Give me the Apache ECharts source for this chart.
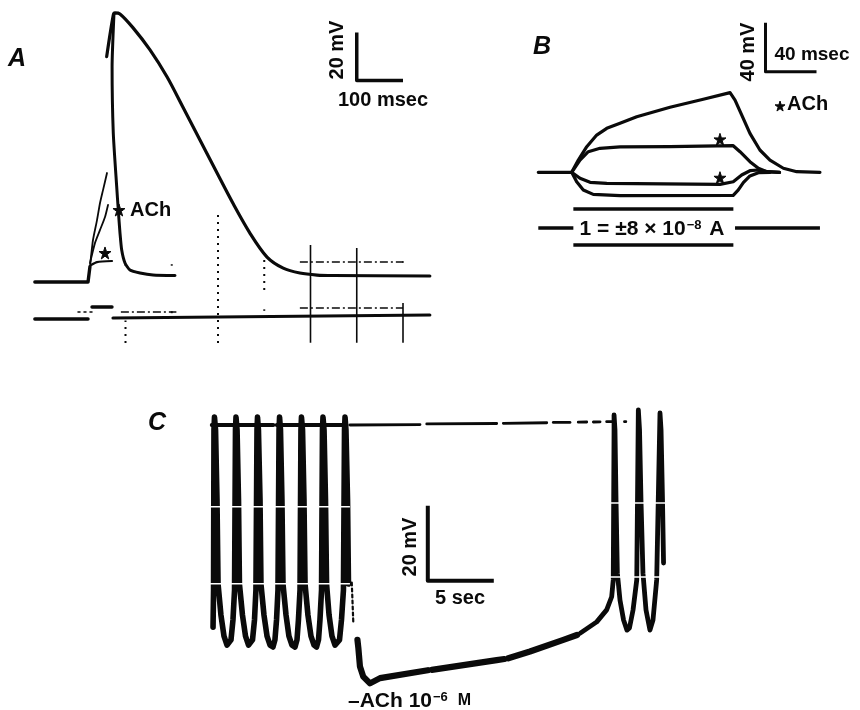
<!DOCTYPE html>
<html><head><meta charset="utf-8">
<script src="https://cdn.jsdelivr.net/npm/echarts@6/dist/echarts.min.js"></script>
<style>html,body{margin:0;padding:0;background:#fff}#c{width:860px;height:710px}</style>
</head><body><div id="c"></div>
<script>
// ---------------- Panel A : time (ms) , potential (mV rel. to rest) ----------------
const aRestBaseline = [[4,0],[119,0],[123.2,6.5]];
const aControlAP = [[159.3,93.9],[173.6,111.2],[177.3,112.1],[188,111.7],[216,106],[253,96.7],[290,85.4],[324,72.9],[361,59.2],[398,45.4],[432,32.9],[469,20.4],[506,10.4],[541,5.8],[577,3.75],[614,2.9],[649,2.7],[858,2.5]];
const aAChAP = [[175,111.5],[171,89.6],[173.6,62],[181,39.6],[184.4,30],[188.1,20.4],[191.8,13.3],[198.9,7.9],[209.7,5],[231.4,3.75],[259.5,2.9],[307,2.7]];
const aSub1 = [[123.2,6.25],[129.7,17.5],[138.4,25.8],[144.9,32.9],[151.4,38.3],[160,45.4]];
const aSub2 = [[123.2,7.9],[134.1,16.3],[144.9,21.7],[155.7,27.1],[162.2,32.1]];
const aSub3 = [[125.4,7.1],[138.4,8.3],[170.8,8.75]];
const aStars = [[155.7,12.1],[185.9,30]];
const aCurrentLeft = [[4,-15.4],[119,-15.4]];
const aCurrentRight = [[173,-15],[858,-13.75]];
const aStimBar = [[127.6,-10.4],[170.8,-10.4]];
const aStimDots = [[97.3,-12.5],[127.6,-12.5]];
// graticule: [time, vFrom, vTo]  and  [v, tFrom, tTo]
const aGratDotted = [[200,-25.4,-16],[300,-13,-12],[300,6.8,7.4],[400,-25.4,30],[500,-3.3,13.3],[500,-12,-11.4],[200,6.8,7.4]];
const aGratSolid = [[600,-25.4,15.4],[700,-25.4,14.2],[800,-25.4,-8.75],[800,8,8.6]];
const aGratH = [[8.3,577,800],[-10.8,577,800],[-12.5,190,310]];
const aScale = {t:700, v:84, dt:100, dv:20};

// ---------------- Panel B : time (ms) , potential (mV) ----------------
const bT1 = [[-26.2,0],[0,0],[5.2,10],[11.8,20.9],[19.6,30.4],[27.5,35.9],[37.9,40],[51,45.4],[77.1,53.1],[103.2,59.6],[124.2,65],[128.1,59],[133.3,46.8],[139.8,31.8],[147.6,18.2],[155.5,10],[166,3.3],[176.5,0.5],[194.7,0]];
const bT2 = [[0,0],[6.5,10],[13,16.8],[22.2,19.6],[37.9,20.7],[77.1,20.9],[126.7,21.7],[132,16.8],[139.8,8.7],[146.4,3.3],[153,0.5],[163,0]];
const bT3 = [[0,0],[6.5,-4.9],[14.4,-8.2],[27.5,-9],[116.3,-9.8],[126.7,-7.7],[133.3,-2.2],[139.8,1.3],[146.4,1.9],[153,0.5],[163,0]];
const bT4 = [[0,0],[3.9,-7.7],[9.1,-14.4],[16.9,-18],[37.9,-19.1],[126.7,-18.8],[130.7,-14.4],[134.6,-8.5],[139.8,-3],[146.4,-0.3],[155.5,0]];
const bStars = [[116.3,26.9],[116.3,-4.4]];
const bLegendStar = [[163.4,54.1]];
const bCurrentTop = [[1.3,-30],[126.8,-30]];
const bCurrentMidLeft = [[-26.2,-45.5],[1.3,-45.5]];
const bCurrentMidRight = [[128.1,-45.5],[194.7,-45.5]];
const bCurrentBottom = [[1.3,-59.3],[126.8,-59.3]];
const bScale = {t:152, v:82, dt:40, dv:40};

// ---------------- Panel C : time (s) , potential (mV) ----------------
const cSpikesBefore = [[0.23,-53.9],[0.27,-44],[0.30,-1.3],[0.34,2.1],[0.42,-1.3],[0.53,-20],[0.61,-42.4],[0.83,-50.7],[1.06,-56.3],[1.29,-58.7],[1.44,-59.2],[1.59,-57.3],[1.74,-52],[1.86,-44],
 [1.93,-1.3],[1.97,2.1],[2.05,-1.3],[2.16,-20],[2.23,-42.4],[2.46,-50.7],[2.69,-56.3],[2.92,-58.7],[3.07,-59.2],[3.22,-57.3],[3.37,-52],[3.48,-44],
 [3.56,-1.3],[3.60,2.1],[3.67,-1.3],[3.79,-20],[3.86,-42.4],[4.09,-50.7],[4.32,-56.3],[4.55,-58.7],[4.77,-59.2],[4.92,-57.3],[5.04,-52],[5.15,-44],
 [5.23,-1.3],[5.27,2.1],[5.34,-1.3],[5.45,-20],[5.53,-42.4],[5.76,-50.7],[5.98,-56.3],[6.21,-58.7],[6.44,-59.2],[6.59,-57.3],[6.70,-52],[6.82,-44],
 [6.89,-1.3],[6.93,2.1],[7.01,-1.3],[7.12,-20],[7.20,-42.4],[7.42,-50.7],[7.65,-56.3],[7.88,-58.7],[8.07,-59.2],[8.22,-57.3],[8.33,-52],[8.45,-44],
 [8.52,-1.3],[8.56,2.1],[8.64,-1.3],[8.75,-20],[8.83,-42.4],[9.02,-50.7],[9.24,-56.3],[9.47,-58.7],[9.62,-59.2],[9.81,-57.3],[9.96,-52],[10.11,-44],
 [10.19,-1.3],[10.23,2.1],[10.30,-1.3],[10.42,-20],[10.49,-42.4]];
const cAfterDots = [[10.74,-42],[10.86,-53]];
const cAChSegments = [
 [[11.17,-57.3],[11.24,-59.5],[11.36,-64.4],[11.61,-67.1],[12.12,-68.9],[12.88,-67.5],[16.5,-65.4]],
 [[16.8,-65.3],[21.72,-62.7],[22.3,-62.4]],
 [[22.6,-62.2],[24.24,-60.4],[26.77,-57.3],[27.8,-56]],
 [[28.05,-55.5],[29.30,-52.5],[30.05,-49.3],[30.43,-45.8],[30.55,-41.3],[30.61,-1.3],[30.61,2.7],
  [30.68,-1.3],[30.76,-20],[30.86,-39.5],[31.06,-46.7],[31.33,-52],[31.59,-54.7],[31.78,-54.1],[32.05,-49.3],[32.33,-41.3],
  [32.45,4],[32.54,-1.3],[32.65,-20],[32.80,-39.5],[33.03,-49.3],[33.33,-54.7],[33.56,-52],[33.84,-41.3],
  [34.09,3.2],[34.17,-1.3],[34.28,-20],[34.36,-36.8]]
];
const cTopLine = [[[0.13,0],[4.8,0]],[[5.05,0],[10.35,0]]];
const cTopDashes = [[[10.61,0],[15.91,0.1]],[[16.42,0.3],[21.72,0.4]],[[22.22,0.45],[25.51,0.6]],[[26.01,0.7],[27.27,0.7]],[[27.9,0.75],[28.54,0.8]],[[29.04,0.8],[29.55,0.85]],[[30.05,0.9],[30.43,0.9]],[[31.4,0.9],[31.5,0.9]]];
const cRasterGaps = [[[0,-21.8],[10.6,-21.8]],[[0,-42.3],[10.6,-42.3]],[[30.3,-20.8],[34.6,-20.8]],[[30.3,-40.5],[34.6,-40.5]]];
const cScale = {t:16.5, v:-41.5, dt:5, dv:20};

// ---------------- helpers ----------------
const INK = '#0a0a0a';
const STAR = 'path://M12,0 L14.9,8.6 L24,8.6 L16.6,14 L19.4,22.6 L12,17.3 L4.6,22.6 L7.4,14 L0,8.6 L9.1,8.6 Z';
const series = [];
function line(g, data, w, o) {
  o = o || {};
  series.push({type:'line', xAxisIndex:g, yAxisIndex:g, data:data, symbol:'none', silent:true, animation:false,
    smooth:o.smooth||false, z:o.z||2,
    lineStyle:{color:o.color||INK, width:w, type:o.dash||'solid', cap:o.cap||'round', join:'round'}});
}
function stars(g, data, size) {
  series.push({type:'scatter', xAxisIndex:g, yAxisIndex:g, data:data, symbol:STAR, symbolSize:size, silent:true, animation:false, z:5,
    itemStyle:{color:INK, borderColor:INK, borderWidth:1, opacity:1}});
}
function scaleBar(g, s, w) {
  line(g, [[s.t, s.v + s.dv],[s.t, s.v],[s.t + s.dt, s.v]], w, {cap:'butt'});
}

// Panel A
line(0, aRestBaseline, 3.4);
line(0, aControlAP, 3.2, {smooth:0.3});
line(0, aAChAP, 3, {smooth:0.2});
line(0, aSub1, 1.8, {smooth:0.2});
line(0, aSub2, 1.8, {smooth:0.2});
line(0, aSub3, 2.2, {smooth:0.2});
stars(0, aStars, 12);
line(0, aCurrentLeft, 3.4);
line(0, aCurrentRight, 3.2);
line(0, aStimBar, 3.4);
line(0, aStimDots, 1.5, {dash:[2,4]});
aGratDotted.forEach(function(d){ line(0, [[d[0],d[1]],[d[0],d[2]]], 2, {dash:[2,5], cap:'butt', z:1}); });
aGratSolid.forEach(function(d){ line(0, [[d[0],d[1]],[d[0],d[2]]], 1.6, {cap:'butt', z:1}); });
aGratH.forEach(function(d){ line(0, [[d[1],d[0]],[d[2],d[0]]], 1.5, {dash:[8,3,2,3], cap:'butt', z:1}); });
scaleBar(0, aScale, 3.5);

// Panel B
line(1, bT1, 3.2); line(1, bT2, 3.2); line(1, bT3, 3.2); line(1, bT4, 3.2);
stars(1, bStars, 12);
stars(1, bLegendStar, 10);
line(1, bCurrentTop, 3.4, {cap:'butt'});
line(1, bCurrentMidLeft, 3.4, {cap:'butt'});
line(1, bCurrentMidRight, 3.4, {cap:'butt'});
line(1, bCurrentBottom, 3.4, {cap:'butt'});
scaleBar(1, bScale, 3);

// Panel C
cTopLine.forEach(function(s){ line(2, s, 3.8); });
line(2, cSpikesBefore, 5.6);
line(2, cAfterDots, 2.2, {dash:[3,3]});
cAChSegments.forEach(function(s, i){ line(2, s, i === 3 ? 4.8 : 6.2); });
cTopDashes.forEach(function(s){ line(2, s, 2.8); });
cRasterGaps.forEach(function(s){ line(2, s, 1.5, {color:'#fff', z:6, cap:'butt'}); });
scaleBar(2, cScale, 4);

const F = '"Liberation Sans", Arial, sans-serif';
function txt(x, y, text, size, o) {
  o = o || {};
  return {type:'text', x:x, y:y, rotation:o.rot||0, z:10, silent:true,
    style:{text:text, fill:INK, fontFamily:F, fontSize:size, fontWeight:o.weight||'bold', fontStyle:o.italic?'italic':'normal',
      textAlign:o.align||'center', textVerticalAlign:'middle', align:o.align||'center', verticalAlign:'middle', rich:o.rich}};
}
const graphics = [
  txt(17, 59, 'A', 25, {italic:true}),
  txt(337, 50, '20 mV', 20, {rot:Math.PI/2}),
  txt(383, 100, '100 msec', 20),
  txt(130, 210, 'ACh', 20, {align:'left'}),
  txt(542, 47, 'B', 25, {italic:true}),
  txt(748, 52, '40 mV', 20, {rot:Math.PI/2}),
  txt(812, 55, '40 msec', 19),
  txt(787, 104, 'ACh', 20, {align:'left'}),
  txt(652, 229, '{a|1 = ±8 × 10}{s|−8}{a| A}', 21, {rich:{a:{fontSize:21, fontWeight:'bold', fontFamily:F, fill:INK}, s:{fontSize:13, fontWeight:'bold', fontFamily:F, fill:INK, verticalAlign:'top', padding:[0,2,8,1]}}}),
  txt(157, 423, 'C', 25, {italic:true}),
  txt(410, 547, '20 mV', 20, {rot:Math.PI/2}),
  txt(460, 598, '5 sec', 20),
  txt(348, 701, '{a|–ACh 10}{s|−6}{m|  M}', 21, {align:'left', rich:{a:{fontSize:21, fontWeight:'bold', fontFamily:F, fill:INK}, s:{fontSize:13, fontWeight:'bold', fontFamily:F, fill:INK, verticalAlign:'top', padding:[0,1,8,1]}, m:{fontSize:16, fontWeight:'bold', fontFamily:F, fill:INK}}})
];

const chart = echarts.init(document.getElementById('c'), null, {renderer:'canvas'});
chart.setOption({
  animation:false,
  backgroundColor:'#fff',
  grid:[
    {left:33, top:6, width:416.25, height:336},
    {left:520.7, top:0.8, width:306, height:269.5},
    {left:144, top:387.5, width:528, height:318.75}
  ],
  xAxis:[
    {gridIndex:0, type:'value', min:0, max:900, show:false},
    {gridIndex:1, type:'value', min:-40, max:200, show:false},
    {gridIndex:2, type:'value', min:-5, max:35, show:false}
  ],
  yAxis:[
    {gridIndex:0, type:'value', min:-25, max:115, show:false},
    {gridIndex:1, type:'value', min:-80, max:140, show:false},
    {gridIndex:2, type:'value', min:-75, max:10, show:false}
  ],
  series:series,
  graphic:graphics
});
</script></body></html>
